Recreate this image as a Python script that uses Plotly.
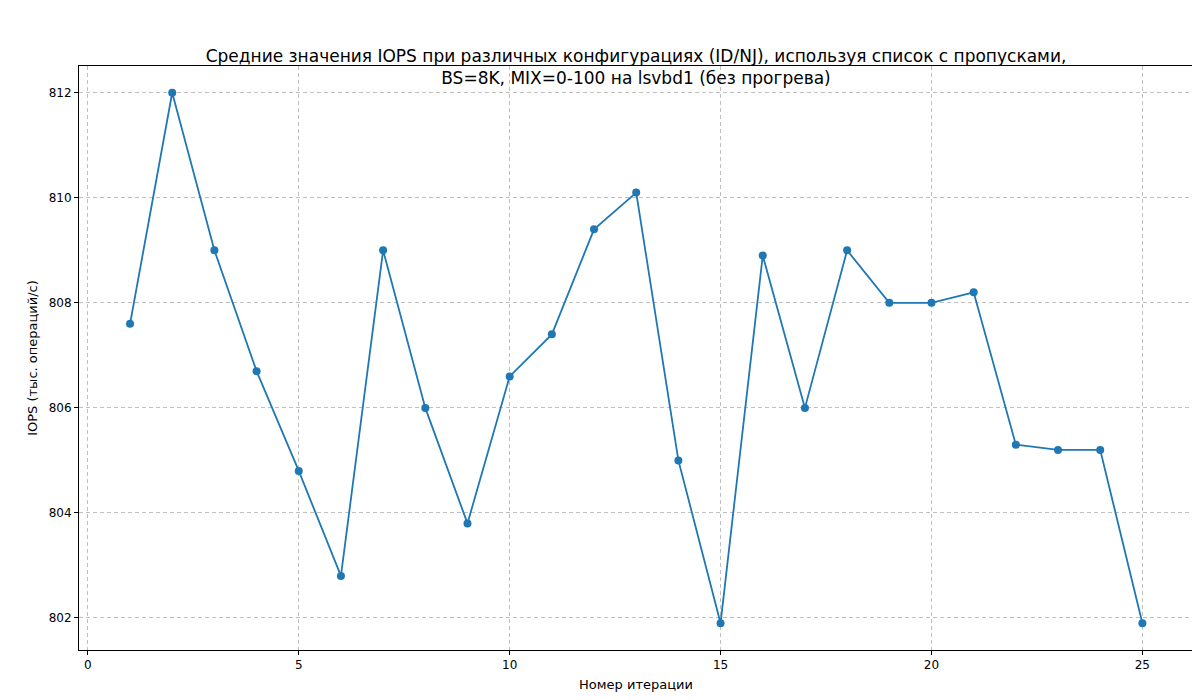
import plotly.graph_objects as go

iterations = list(range(1, 26))
iops = [807.6, 812.0, 809.0, 806.7, 804.8, 802.8, 809.0, 806.0, 803.8, 806.6,
        807.4, 809.4, 810.1, 805.0, 801.9, 808.9, 806.0, 809.0, 808.0, 808.0,
        808.2, 805.3, 805.2, 805.2, 801.9]

fig = go.Figure()
fig.add_trace(go.Scatter(x=iterations, y=iops, mode="lines+markers",
                         line=dict(color="#1f77b4", width=1.8),
                         marker=dict(color="#1f77b4", size=8)))

axis_style = dict(showgrid=True, gridcolor="rgba(0,0,0,0.25)", griddash="4px,3px", gridwidth=1,
                  showline=True, linecolor="black", mirror=True, ticks="outside",
                  ticklen=4, tickcolor="black", zeroline=False, automargin=False,
                  tickfont=dict(size=12, color="black"))

fig.update_layout(
    width=1200, height=700,
    paper_bgcolor="white", plot_bgcolor="white",
    font=dict(family="DejaVu Sans", color="black"),
    margin=dict(l=71, r=15, t=58, b=58, autoexpand=False),
    showlegend=False,
    title=dict(text="Средние значения IOPS при различных конфигурациях (ID/NJ), используя список с пропусками,<br>BS=8K, MIX=0-100 на lsvbd1 (без прогрева)",
               x=0.5, xref="paper", xanchor="center", y=1, yref="paper", yanchor="bottom",
               pad=dict(b=4), font=dict(size=17, color="black")),
    xaxis=dict(axis_style, range=[-0.21, 26.2], tickvals=[0, 5, 10, 15, 20, 25],
               title=dict(text="Номер итерации", font=dict(size=13), standoff=8)),
    yaxis=dict(axis_style, range=[801.39, 812.51], tickvals=[802, 804, 806, 808, 810, 812],
               title=dict(text="IOPS (тыс. операций/с)", font=dict(size=13), standoff=8)),
)

fig.write_html("out.html")
